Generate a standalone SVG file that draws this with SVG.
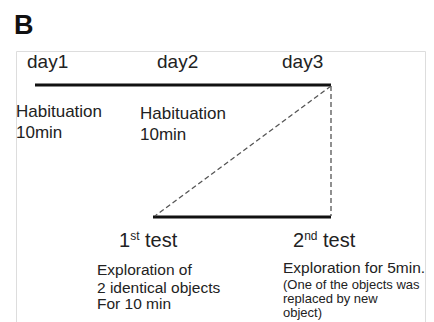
<svg xmlns="http://www.w3.org/2000/svg" width="434" height="322" viewBox="0 0 434 322">
<style>
text{font-family:"Liberation Sans",Arial,sans-serif;fill:#222}
.d{font-size:19px}
.t{font-size:20px}
.h{font-size:17px}
.e{font-size:15.5px}
.s{font-size:13px}
.thick{stroke:#111;stroke-width:3;fill:none}
.dash{stroke:#555;stroke-width:1.3;stroke-dasharray:5,3;fill:none}
</style>
<rect width="434" height="322" fill="#fff"/>
<text x="14" y="34" style="font-size:27px;font-weight:bold;fill:#111">B</text>
<path d="M16.5 322V51.5H425.5V322" fill="none" stroke="#ddd" stroke-width="1"/>
<g id="connectors">
<line class="thick" x1="35" y1="85" x2="331" y2="85"/>
<line class="thick" x1="153" y1="217" x2="331" y2="217"/>
<line class="dash" x1="331" y1="86" x2="331" y2="216"/>
<line class="dash" x1="331" y1="86" x2="155" y2="216"/>
</g>
<g id="day1"><text class="d" x="27" y="68">day1</text></g>
<g id="day2"><text class="d" x="157" y="68">day2</text></g>
<g id="day3"><text class="d" x="282" y="68">day3</text></g>
<g id="hab1"><text class="h" x="16" y="117">Habituation</text><text class="h" x="16" y="138">10min</text></g>
<g id="hab2"><text class="h" x="140" y="119">Habituation</text><text class="h" x="140" y="140">10min</text></g>
<g id="test1"><text class="t" x="119" y="247">1<tspan style="font-size:12px" dy="-7">st</tspan><tspan dy="7"> test</tspan></text>
<text class="e" x="97" y="275">Exploration of</text><text class="e" x="97" y="293">2 identical objects</text><text class="e" x="97" y="309">For 10 min</text></g>
<g id="test2"><text class="t" x="293" y="247">2<tspan style="font-size:12px" dy="-7">nd</tspan><tspan dy="7"> test</tspan></text>
<text class="e" x="283" y="273">Exploration for 5min.</text><text class="s" x="283" y="289">(One of the objects was</text><text class="s" x="283" y="303">replaced by new</text><text class="s" x="283" y="317">object)</text></g>
</svg>
